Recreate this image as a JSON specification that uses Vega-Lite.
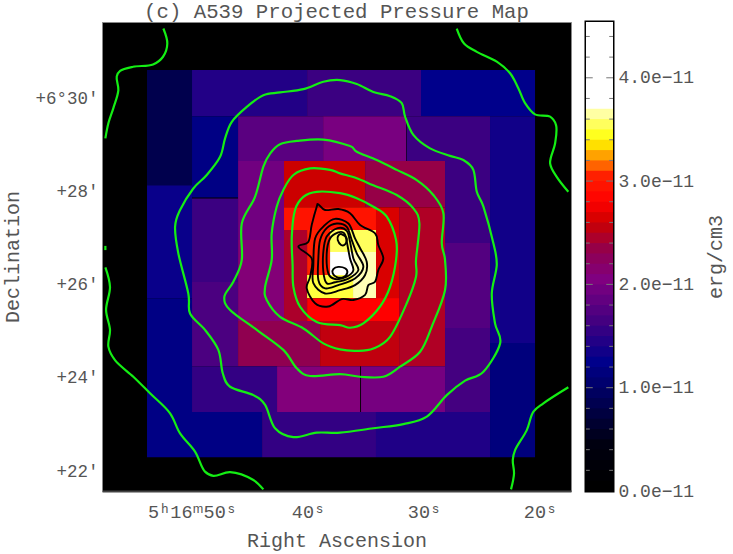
{"$schema":"https://vega.github.io/schema/vega-lite/v6.json","background":"white","padding":{"left":2,"top":0,"right":0,"bottom":0},"config":{"font":"Liberation Mono","title":{"font":"Liberation Mono","fontSize":20.7,"fontWeight":"normal","color":"#555555"},"axis":{"labelFont":"Liberation Mono","titleFont":"Liberation Mono","labelColor":"#555555","titleColor":"#555555","titleFontWeight":"normal","titleFontSize":20,"labelFontSize":17.5,"grid":false}},"datasets":{"cells":[{"ra":53.88,"ra2":50.0,"dec":30.6,"dec2":28.13,"p":0.78},{"ra":50.0,"ra2":40.08,"dec":30.6,"dec2":29.61,"p":1.4},{"ra":40.08,"ra2":30.26,"dec":30.6,"dec2":29.61,"p":1.55},{"ra":30.26,"ra2":20.43,"dec":30.6,"dec2":29.61,"p":1.2},{"ra":50.0,"ra2":46.03,"dec":29.61,"dec2":27.87,"p":1.15},{"ra":46.03,"ra2":38.7,"dec":29.61,"dec2":28.65,"p":1.75},{"ra":38.7,"ra2":31.55,"dec":29.61,"dec2":28.65,"p":1.95},{"ra":31.5,"ra2":24.31,"dec":29.61,"dec2":28.65,"p":1.55},{"ra":24.31,"ra2":20.43,"dec":29.61,"dec2":24.75,"p":1.3},{"ra":53.88,"ra2":50.0,"dec":28.13,"dec2":25.71,"p":1.25},{"ra":50.0,"ra2":46.03,"dec":27.845,"dec2":26.055,"p":1.55},{"ra":50.0,"ra2":46.03,"dec":26.055,"dec2":24.25,"p":1.65},{"ra":46.03,"ra2":42.07,"dec":28.65,"dec2":26.955,"p":1.9},{"ra":46.03,"ra2":42.07,"dec":26.955,"dec2":25.22,"p":2.05},{"ra":42.07,"ra2":35.08,"dec":28.65,"dec2":27.66,"p":2.55},{"ra":35.08,"ra2":28.19,"dec":28.65,"dec2":27.66,"p":2.3},{"ra":28.19,"ra2":24.31,"dec":28.65,"dec2":26.89,"p":1.55},{"ra":42.07,"ra2":34.14,"dec":27.66,"dec2":27.17,"p":2.9},{"ra":34.14,"ra2":32.15,"dec":27.66,"dec2":25.22,"p":2.6},{"ra":32.15,"ra2":28.19,"dec":27.66,"dec2":24.25,"p":2.42},{"ra":42.07,"ra2":40.08,"dec":27.17,"dec2":25.22,"p":2.4},{"ra":40.08,"ra2":38.1,"dec":27.17,"dec2":26.205,"p":3.0},{"ra":38.1,"ra2":34.14,"dec":27.17,"dec2":26.7,"p":3.5},{"ra":38.1,"ra2":36.12,"dec":26.7,"dec2":26.205,"p":4.0},{"ra":36.12,"ra2":34.14,"dec":26.7,"dec2":25.71,"p":3.62},{"ra":40.08,"ra2":36.12,"dec":26.205,"dec2":25.71,"p":3.45},{"ra":40.08,"ra2":32.15,"dec":25.71,"dec2":25.22,"p":2.75},{"ra":46.03,"ra2":38.96,"dec":25.22,"dec2":24.25,"p":2.27},{"ra":38.96,"ra2":32.15,"dec":25.22,"dec2":24.25,"p":2.5},{"ra":28.19,"ra2":24.31,"dec":26.89,"dec2":25.07,"p":1.7},{"ra":28.19,"ra2":24.31,"dec":25.07,"dec2":23.27,"p":1.6},{"ra":50.0,"ra2":42.67,"dec":24.25,"dec2":23.27,"p":1.5},{"ra":42.67,"ra2":35.51,"dec":24.25,"dec2":23.27,"p":2.03},{"ra":35.43,"ra2":28.19,"dec":24.25,"dec2":23.27,"p":1.93},{"ra":53.88,"ra2":43.96,"dec":23.27,"dec2":22.3,"p":1.15},{"ra":53.88,"ra2":50.0,"dec":25.71,"dec2":23.27,"p":1.15},{"ra":43.96,"ra2":34.14,"dec":23.27,"dec2":22.3,"p":1.5},{"ra":34.14,"ra2":24.31,"dec":23.27,"dec2":22.3,"p":1.38},{"ra":24.31,"ra2":20.43,"dec":24.75,"dec2":22.3,"p":1.1}],"open":[{"c":"a","ra":52.47,"dec":31.49},{"c":"a","ra":52.13,"dec":31.17},{"c":"a","ra":52.5,"dec":30.885},{"c":"a","ra":53.36,"dec":30.72},{"c":"a","ra":55.08,"dec":30.67},{"c":"a","ra":56.2,"dec":30.58},{"c":"a","ra":56.49,"dec":30.46},{"c":"a","ra":56.35,"dec":30.17},{"c":"a","ra":56.78,"dec":29.785},{"c":"a","ra":57.21,"dec":29.46},{"c":"a","ra":57.47,"dec":29.135},{"c":"b","ra":27.18,"dec":31.49},{"c":"b","ra":26.55,"dec":31.17},{"c":"b","ra":25.45,"dec":30.99},{"c":"b","ra":23.73,"dec":30.78},{"c":"b","ra":22.58,"dec":30.53},{"c":"b","ra":21.87,"dec":30.21},{"c":"b","ra":21.29,"dec":29.89},{"c":"b","ra":20.43,"dec":29.65},{"c":"b","ra":19.13,"dec":29.6},{"c":"b","ra":18.62,"dec":29.42},{"c":"b","ra":18.7,"dec":29.03},{"c":"b","ra":19.13,"dec":28.6},{"c":"b","ra":18.56,"dec":28.31},{"c":"b","ra":17.56,"dec":27.99},{"c":"e","ra":57.47,"dec":26.83},{"c":"e","ra":57.47,"dec":26.74},{"c":"f","ra":57.47,"dec":26.37},{"c":"f","ra":57.07,"dec":25.95},{"c":"f","ra":57.41,"dec":25.455},{"c":"f","ra":57.07,"dec":25.03},{"c":"f","ra":57.21,"dec":24.67},{"c":"f","ra":56.64,"dec":24.38},{"c":"f","ra":55.06,"dec":24.025},{"c":"f","ra":53.62,"dec":23.67},{"c":"f","ra":51.89,"dec":23.24},{"c":"f","ra":51.03,"dec":22.81},{"c":"f","ra":49.74,"dec":22.42},{"c":"f","ra":48.88,"dec":21.99},{"c":"f","ra":48.16,"dec":21.9},{"c":"f","ra":46.72,"dec":21.98},{"c":"f","ra":44.71,"dec":21.81},{"c":"f","ra":43.85,"dec":21.61},{"c":"d","ra":17.56,"dec":23.8},{"c":"d","ra":19.71,"dec":23.455},{"c":"d","ra":20.57,"dec":23.275},{"c":"d","ra":21.14,"dec":22.88},{"c":"d","ra":22.15,"dec":22.45},{"c":"d","ra":22.35,"dec":22.24},{"c":"d","ra":22.24,"dec":21.95},{"c":"d","ra":22.5,"dec":21.61}],"rings":[{"c":"g2","ra":37.24,"dec":30.385},{"c":"g2","ra":38.68,"dec":30.35},{"c":"g2","ra":40.4,"dec":30.19},{"c":"g2","ra":42.41,"dec":30.12},{"c":"g2","ra":43.85,"dec":30.06},{"c":"g2","ra":45.28,"dec":29.81},{"c":"g2","ra":46.57,"dec":29.49},{"c":"g2","ra":47.15,"dec":29.135},{"c":"g2","ra":47.58,"dec":28.74},{"c":"g2","ra":48.73,"dec":28.35},{"c":"g2","ra":49.89,"dec":28.06},{"c":"g2","ra":51.03,"dec":27.6},{"c":"g2","ra":51.46,"dec":27.24},{"c":"g2","ra":51.18,"dec":26.67},{"c":"g2","ra":50.32,"dec":25.81},{"c":"g2","ra":50.17,"dec":25.38},{"c":"g2","ra":48.88,"dec":25.03},{"c":"g2","ra":47.73,"dec":24.6},{"c":"g2","ra":47.35,"dec":24.1},{"c":"g2","ra":46.72,"dec":23.81},{"c":"g2","ra":44.71,"dec":23.63},{"c":"g2","ra":43.7,"dec":23.42},{"c":"g2","ra":42.84,"dec":22.92},{"c":"g2","ra":41.26,"dec":22.73},{"c":"g2","ra":39.25,"dec":22.825},{"c":"g2","ra":37.24,"dec":22.825},{"c":"g2","ra":34.37,"dec":22.92},{"c":"g2","ra":31.78,"dec":23.01},{"c":"g2","ra":29.76,"dec":23.17},{"c":"g2","ra":28.04,"dec":23.63},{"c":"g2","ra":26.46,"dec":23.94},{"c":"g2","ra":24.88,"dec":24.13},{"c":"g2","ra":23.44,"dec":24.74},{"c":"g2","ra":23.88,"dec":25.17},{"c":"g2","ra":24.16,"dec":25.81},{"c":"g2","ra":23.73,"dec":26.42},{"c":"g2","ra":24.02,"dec":26.885},{"c":"g2","ra":24.88,"dec":27.67},{"c":"g2","ra":25.45,"dec":27.99},{"c":"g2","ra":25.75,"dec":28.46},{"c":"g2","ra":26.61,"dec":28.67},{"c":"g2","ra":27.76,"dec":28.76},{"c":"g2","ra":29.48,"dec":28.92},{"c":"g2","ra":30.92,"dec":29.21},{"c":"g2","ra":31.63,"dec":29.6},{"c":"g2","ra":31.92,"dec":29.89},{"c":"g2","ra":32.93,"dec":30.04},{"c":"g2","ra":34.37,"dec":30.13},{"c":"g2","ra":35.8,"dec":30.3},{"c":"g3","ra":36.38,"dec":28.97},{"c":"g3","ra":38.68,"dec":29.11},{"c":"g3","ra":40.97,"dec":29.08},{"c":"g3","ra":42.41,"dec":29.01},{"c":"g3","ra":43.27,"dec":28.81},{"c":"g3","ra":43.85,"dec":28.53},{"c":"g3","ra":44.57,"dec":27.88},{"c":"g3","ra":45.71,"dec":27.31},{"c":"g3","ra":45.71,"dec":26.53},{"c":"g3","ra":46.44,"dec":26.06},{"c":"g3","ra":47.21,"dec":25.74},{"c":"g3","ra":46.72,"dec":25.455},{"c":"g3","ra":44.42,"dec":25.03},{"c":"g3","ra":42.13,"dec":24.6},{"c":"g3","ra":40.97,"dec":24.205},{"c":"g3","ra":39.82,"dec":24.04},{"c":"g3","ra":37.24,"dec":24.08},{"c":"g3","ra":35.51,"dec":24.025},{"c":"g3","ra":33.51,"dec":24.025},{"c":"g3","ra":32.07,"dec":24.24},{"c":"g3","ra":30.34,"dec":24.56},{"c":"g3","ra":29.33,"dec":25.1},{"c":"g3","ra":28.19,"dec":25.88},{"c":"g3","ra":28.19,"dec":26.53},{"c":"g3","ra":28.47,"dec":26.885},{"c":"g3","ra":28.33,"dec":27.53},{"c":"g3","ra":29.2,"dec":27.92},{"c":"g3","ra":30.63,"dec":28.24},{"c":"g3","ra":32.35,"dec":28.46},{"c":"g3","ra":34.08,"dec":28.67},{"c":"g3","ra":35.8,"dec":28.85},{"c":"g4","ra":38.1,"dec":28.46},{"c":"g4","ra":39.82,"dec":28.49},{"c":"g4","ra":41.26,"dec":28.35},{"c":"g4","ra":42.13,"dec":28.03},{"c":"g4","ra":42.7,"dec":27.67},{"c":"g4","ra":43.13,"dec":27.1},{"c":"g4","ra":43.13,"dec":26.53},{"c":"g4","ra":43.7,"dec":25.95},{"c":"g4","ra":43.56,"dec":25.67},{"c":"g4","ra":42.41,"dec":25.31},{"c":"g4","ra":40.4,"dec":25.06},{"c":"g4","ra":38.68,"dec":24.74},{"c":"g4","ra":37.24,"dec":24.61},{"c":"g4","ra":35.8,"dec":24.58},{"c":"g4","ra":34.37,"dec":24.63},{"c":"g4","ra":32.93,"dec":24.88},{"c":"g4","ra":31.49,"dec":25.6},{"c":"g4","ra":30.69,"dec":26.17},{"c":"g4","ra":30.69,"dec":26.53},{"c":"g4","ra":30.4,"dec":27.31},{"c":"g4","ra":30.92,"dec":27.635},{"c":"g4","ra":32.35,"dec":27.92},{"c":"g4","ra":34.37,"dec":28.13},{"c":"g4","ra":35.8,"dec":28.28},{"c":"g4","ra":37.24,"dec":28.385},{"c":"g5","ra":39.25,"dec":27.99},{"c":"g5","ra":40.4,"dec":27.88},{"c":"g5","ra":41.12,"dec":27.6},{"c":"g5","ra":41.4,"dec":27.03},{"c":"g5","ra":41.33,"dec":26.42},{"c":"g5","ra":41.26,"dec":25.95},{"c":"g5","ra":40.69,"dec":25.53},{"c":"g5","ra":39.25,"dec":25.2},{"c":"g5","ra":37.24,"dec":25.13},{"c":"g5","ra":36.38,"dec":25.075},{"c":"g5","ra":35.23,"dec":25.17},{"c":"g5","ra":33.79,"dec":25.53},{"c":"g5","ra":32.93,"dec":25.95},{"c":"g5","ra":32.41,"dec":26.53},{"c":"g5","ra":32.41,"dec":26.955},{"c":"g5","ra":33.21,"dec":27.455},{"c":"g5","ra":34.37,"dec":27.67},{"c":"g5","ra":35.8,"dec":27.85},{"c":"g5","ra":37.24,"dec":27.96}],"core":[{"c":"b1","ra":39.11,"dec":27.72},{"c":"b1","ra":38.53,"dec":27.6},{"c":"b1","ra":37.39,"dec":27.62},{"c":"b1","ra":36.38,"dec":27.53},{"c":"b1","ra":35.51,"dec":27.28},{"c":"b1","ra":34.22,"dec":27.1},{"c":"b1","ra":33.94,"dec":26.85},{"c":"b1","ra":33.51,"dec":26.56},{"c":"b1","ra":33.94,"dec":26.31},{"c":"b1","ra":34.22,"dec":26.06},{"c":"b1","ra":34.8,"dec":25.99},{"c":"b1","ra":35.08,"dec":25.78},{"c":"b1","ra":36.09,"dec":25.67},{"c":"b1","ra":37.09,"dec":25.69},{"c":"b1","ra":38.25,"dec":25.53},{"c":"b1","ra":39.39,"dec":25.6},{"c":"b1","ra":40.11,"dec":25.92},{"c":"b1","ra":39.82,"dec":26.17},{"c":"b1","ra":39.68,"dec":26.56},{"c":"b1","ra":40.83,"dec":26.81},{"c":"b1","ra":39.97,"dec":26.92},{"c":"b1","ra":39.68,"dec":27.28},{"c":"b1","ra":39.25,"dec":27.67},{"c":"b2","ra":37.67,"dec":27.41},{"c":"b2","ra":36.52,"dec":27.31},{"c":"b2","ra":35.95,"dec":26.99},{"c":"b2","ra":35.51,"dec":26.78},{"c":"b2","ra":34.94,"dec":26.49},{"c":"b2","ra":35.08,"dec":26.205},{"c":"b2","ra":35.95,"dec":25.99},{"c":"b2","ra":37.24,"dec":25.88},{"c":"b2","ra":38.53,"dec":25.81},{"c":"b2","ra":39.54,"dec":26.03},{"c":"b2","ra":39.54,"dec":26.42},{"c":"b2","ra":39.39,"dec":26.99},{"c":"b2","ra":38.53,"dec":27.28},{"c":"b3","ra":37.52,"dec":27.31},{"c":"b3","ra":36.66,"dec":27.24},{"c":"b3","ra":36.23,"dec":26.955},{"c":"b3","ra":35.8,"dec":26.67},{"c":"b3","ra":35.23,"dec":26.38},{"c":"b3","ra":35.95,"dec":26.13},{"c":"b3","ra":37.39,"dec":25.99},{"c":"b3","ra":38.53,"dec":25.92},{"c":"b3","ra":39.11,"dec":26.1},{"c":"b3","ra":39.11,"dec":26.56},{"c":"b3","ra":38.96,"dec":26.955},{"c":"b3","ra":38.39,"dec":27.21},{"c":"b4","ra":37.44,"dec":27.21},{"c":"b4","ra":36.66,"dec":27.15},{"c":"b4","ra":36.38,"dec":26.92},{"c":"b4","ra":36.09,"dec":26.56},{"c":"b4","ra":35.66,"dec":26.31},{"c":"b4","ra":36.52,"dec":26.13},{"c":"b4","ra":37.67,"dec":26.05},{"c":"b4","ra":38.39,"dec":26.03},{"c":"b4","ra":38.68,"dec":26.28},{"c":"b4","ra":38.68,"dec":26.7},{"c":"b4","ra":38.39,"dec":27.03},{"c":"b5","ra":37.39,"dec":27.12},{"c":"b5","ra":36.87,"dec":27.1},{"c":"b5","ra":36.66,"dec":26.92},{"c":"b5","ra":36.38,"dec":26.56},{"c":"b5","ra":36.09,"dec":26.31},{"c":"b5","ra":36.66,"dec":26.17},{"c":"b5","ra":37.67,"dec":26.12},{"c":"b5","ra":38.25,"dec":26.24},{"c":"b5","ra":38.39,"dec":26.67},{"c":"b5","ra":38.1,"dec":26.99},{"c":"b6","ra":37.09,"dec":27.08},{"c":"b6","ra":36.66,"dec":26.99},{"c":"b6","ra":36.81,"dec":26.86},{"c":"b6","ra":37.15,"dec":26.85},{"c":"b6","ra":37.44,"dec":26.955},{"c":"b6","ra":37.39,"dec":27.05},{"c":"b7","ra":37.39,"dec":26.38},{"c":"b7","ra":36.81,"dec":26.35},{"c":"b7","ra":36.61,"dec":26.26},{"c":"b7","ra":36.95,"dec":26.16},{"c":"b7","ra":37.52,"dec":26.16},{"c":"b7","ra":37.87,"dec":26.24},{"c":"b7","ra":37.82,"dec":26.33}],"bar":[{"p":0.0,"p2":0.12},{"p":0.1,"p2":0.22},{"p":0.2,"p2":0.32},{"p":0.3,"p2":0.42},{"p":0.4,"p2":0.52},{"p":0.5,"p2":0.62},{"p":0.6,"p2":0.72},{"p":0.7,"p2":0.82},{"p":0.8,"p2":0.92},{"p":0.9,"p2":1.02},{"p":1.0,"p2":1.12},{"p":1.1,"p2":1.22},{"p":1.2,"p2":1.32},{"p":1.3,"p2":1.42},{"p":1.4,"p2":1.52},{"p":1.5,"p2":1.62},{"p":1.6,"p2":1.72},{"p":1.7,"p2":1.82},{"p":1.8,"p2":1.92},{"p":1.9,"p2":2.02},{"p":2.0,"p2":2.12},{"p":2.1,"p2":2.22},{"p":2.2,"p2":2.32},{"p":2.3,"p2":2.42},{"p":2.4,"p2":2.52},{"p":2.5,"p2":2.62},{"p":2.6,"p2":2.72},{"p":2.7,"p2":2.82},{"p":2.8,"p2":2.92},{"p":2.9,"p2":3.02},{"p":3.0,"p2":3.12},{"p":3.1,"p2":3.22},{"p":3.2,"p2":3.32},{"p":3.3,"p2":3.42},{"p":3.4,"p2":3.52},{"p":3.5,"p2":3.62},{"p":3.6,"p2":3.72},{"p":3.7,"p2":3.82},{"p":3.8,"p2":3.92},{"p":3.9,"p2":4.02},{"p":4.0,"p2":4.12},{"p":4.1,"p2":4.22},{"p":4.2,"p2":4.32},{"p":4.3,"p2":4.42},{"p":4.4,"p2":4.52},{"p":4.5,"p2":4.54}],"ticks":[{"t":0.2,"a":0,"b":1,"len":0.14,"r":0.86},{"t":0.4,"a":0,"b":1,"len":0.14,"r":0.86},{"t":0.6,"a":0,"b":1,"len":0.14,"r":0.86},{"t":0.8,"a":0,"b":1,"len":0.14,"r":0.86},{"t":1.0,"a":0,"b":1,"len":0.25,"r":0.75},{"t":1.2,"a":0,"b":1,"len":0.14,"r":0.86},{"t":1.4,"a":0,"b":1,"len":0.14,"r":0.86},{"t":1.6,"a":0,"b":1,"len":0.14,"r":0.86},{"t":1.8,"a":0,"b":1,"len":0.14,"r":0.86},{"t":2.0,"a":0,"b":1,"len":0.25,"r":0.75},{"t":2.2,"a":0,"b":1,"len":0.14,"r":0.86},{"t":2.4,"a":0,"b":1,"len":0.14,"r":0.86},{"t":2.6,"a":0,"b":1,"len":0.14,"r":0.86},{"t":2.8,"a":0,"b":1,"len":0.14,"r":0.86},{"t":3.0,"a":0,"b":1,"len":0.25,"r":0.75},{"t":3.2,"a":0,"b":1,"len":0.14,"r":0.86},{"t":3.4,"a":0,"b":1,"len":0.14,"r":0.86},{"t":3.6,"a":0,"b":1,"len":0.14,"r":0.86},{"t":3.8,"a":0,"b":1,"len":0.14,"r":0.86},{"t":4.0,"a":0,"b":1,"len":0.25,"r":0.75},{"t":4.2,"a":0,"b":1,"len":0.14,"r":0.86},{"t":4.4,"a":0,"b":1,"len":0.14,"r":0.86}]},"hconcat":[{"width":469,"height":469,"title":{"text":"(c) A539 Projected Pressure Map","offset":-1,"anchor":"middle"},"view":{"fill":"#000000","stroke":"#888888","strokeWidth":1},"layer":[{"data":{"name":"cells"},"mark":{"type":"rect"},"encoding":{"x":{"field":"ra","type":"quantitative","scale":{"domain":[57.76,17.33],"nice":false,"zero":false},"axis":{"title":"Right Ascension","values":[50,40,30,20],"labelExpr":"datum.value==50?'5ʰ16ᵐ50ˢ':datum.value+'ˢ'","ticks":false,"domainColor":"#444444","domainWidth":2,"labelPadding":11,"titlePadding":10,"labelFontSize":18.5,"labelFlush":false}},"y":{"field":"dec","type":"quantitative","scale":{"domain":[21.575,31.63],"nice":false,"zero":false},"axis":{"title":"Declination","values":[22,24,26,28,30],"labelExpr":"datum.value==30?'+6°30′':'+'+datum.value+'′'","ticks":false,"domainColor":"#888888","labelPadding":4,"titlePadding":12}},"x2":{"field":"ra2"},"y2":{"field":"dec2"},"color":{"field":"p","type":"quantitative","legend":null,"scale":{"interpolate":"rgb","domain":[0,0.4,0.8,1.2,1.6,2.0,2.27,2.55,2.75,3.0,3.12,3.35,3.57,3.7,4.54],"range":["#000000","#000010","#000050","#00008b","#440080","#800080","#900050","#cc0000","#ff0000","#ff2000","#ff7000","#ffff00","#ffff88","#ffffff","#ffffff"]}}}},{"data":{"name":"open"},"mark":{"type":"line","color":"#14ee14","strokeWidth":2.2,"interpolate":"catmull-rom"},"encoding":{"x":{"field":"ra","type":"quantitative"},"y":{"field":"dec","type":"quantitative"},"detail":{"field":"c","type":"nominal"},"order":{"value":null}}},{"data":{"name":"rings"},"mark":{"type":"line","color":"#14ee14","strokeWidth":2.2,"interpolate":"cardinal-closed"},"encoding":{"x":{"field":"ra","type":"quantitative"},"y":{"field":"dec","type":"quantitative"},"detail":{"field":"c","type":"nominal"},"order":{"value":null}}},{"data":{"name":"core"},"mark":{"type":"line","color":"#000000","strokeWidth":1.9,"interpolate":"cardinal-closed"},"encoding":{"x":{"field":"ra","type":"quantitative"},"y":{"field":"dec","type":"quantitative"},"detail":{"field":"c","type":"nominal"},"order":{"value":null}}}]},{"width":27,"height":469,"view":{"stroke":"#000000","strokeWidth":3},"layer":[{"data":{"name":"bar"},"mark":{"type":"rect"},"encoding":{"y":{"field":"p","type":"quantitative","scale":{"domain":[0,4.54],"nice":false,"zero":false},"axis":{"orient":"right","title":"erg/cm3","titleAngle":270,"titleBaseline":"top","titlePadding":12,"labelPadding":5,"labelFontSize":18,"domain":false,"ticks":false,"values":[0,1,2,3,4],"labelExpr":"format(datum.value,'.1f')+'e−11'"}},"y2":{"field":"p2"},"color":{"field":"p","type":"quantitative","legend":null,"scale":{"interpolate":"rgb","domain":[0,0.4,0.8,1.2,1.6,2.0,2.27,2.55,2.75,3.0,3.12,3.35,3.57,3.7,4.54],"range":["#000000","#000010","#000050","#00008b","#440080","#800080","#900050","#cc0000","#ff0000","#ff2000","#ff7000","#ffff00","#ffff88","#ffffff","#ffffff"]}}}},{"data":{"name":"ticks"},"mark":{"type":"rule","color":"#777777"},"encoding":{"x":{"field":"a","type":"quantitative","scale":{"domain":[0,1],"nice":false},"axis":null},"x2":{"field":"len"},"y":{"field":"t","type":"quantitative"}}},{"data":{"name":"ticks"},"mark":{"type":"rule","color":"#777777"},"encoding":{"x":{"field":"b","type":"quantitative"},"x2":{"field":"r"},"y":{"field":"t","type":"quantitative"}}}]}],"spacing":10}
